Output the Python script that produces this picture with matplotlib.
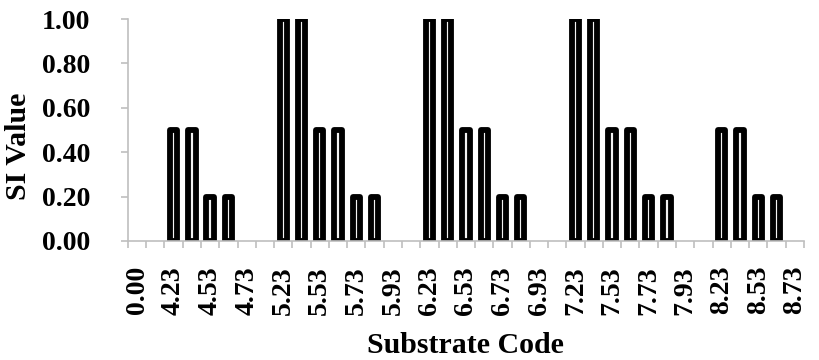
import numpy as np
import matplotlib
matplotlib.use("Agg")
import matplotlib.pyplot as plt
from matplotlib.ticker import FixedLocator

# 37 substrate codes, only every other one is labelled on the axis
labels = ["0.00", "4.23", "4.53", "4.73", "5.23", "5.53", "5.73", "5.93",
          "6.23", "6.53", "6.73", "6.93", "7.23", "7.53", "7.73", "7.93",
          "8.23", "8.53", "8.73"]
si_values = [0, 0, 0.5, 0.5, 0.2, 0.2, 0, 0,
             1, 1, 0.5, 0.5, 0.2, 0.2, 0, 0,
             1, 1, 0.5, 0.5, 0.2, 0.2, 0, 0,
             1, 1, 0.5, 0.5, 0.2, 0.2, 0, 0,
             0.5, 0.5, 0.2, 0.2, 0]
y_ticks = [0.0, 0.2, 0.4, 0.6, 0.8, 1.0]

plt.rcParams['font.family'] = ['Liberation Serif', 'DejaVu Serif']
plt.rcParams['font.weight'] = 'bold'

grey = "#bfbfbf"
n = len(si_values)
x = np.arange(n)
vals = np.array(si_values, dtype=float)
nz = vals > 0   # zero bars are not visible in the original

fig = plt.figure(figsize=(8.2, 3.6), dpi=100)
ax = fig.add_axes([0.156, 0.3306, 0.8244, 0.6164])

ax.bar(x[nz], vals[nz], width=0.40, facecolor="#f2f2f2", edgecolor="black",
       linewidth=4.2, joinstyle="round")

ax.set_xlim(-0.5, n - 0.5)
ax.set_ylim(0, 1.0)

for s in ["top", "right"]:
    ax.spines[s].set_visible(False)
for s in ["left", "bottom"]:
    ax.spines[s].set_color(grey)
    ax.spines[s].set_linewidth(1.2)

# labels at every other category centre, tick marks at category boundaries
ax.set_xticks(x[::2])
ax.set_xticklabels(labels, rotation=90, fontsize=20, fontweight="bold")
ax.xaxis.set_minor_locator(FixedLocator(np.arange(n + 1) - 0.5))
ax.tick_params(axis="x", which="major", length=0, pad=18)
ax.tick_params(axis="x", which="minor", length=5, width=1.2, color=grey,
               direction="out")

ax.set_yticks(y_ticks)
ax.set_yticklabels(["%.2f" % v for v in y_ticks], fontsize=20,
                   fontweight="bold")
ax.tick_params(axis="y", length=5, width=1.2, color=grey, pad=22)

ax.set_xlabel("Substrate Code", fontsize=21.5, fontweight="bold")
ax.xaxis.set_label_coords(0.5, -0.41)
ax.set_ylabel("SI Value", fontsize=21.5, fontweight="bold")
ax.yaxis.set_label_coords(-0.142, 0.428)

fig.savefig("out.png", dpi=100)
